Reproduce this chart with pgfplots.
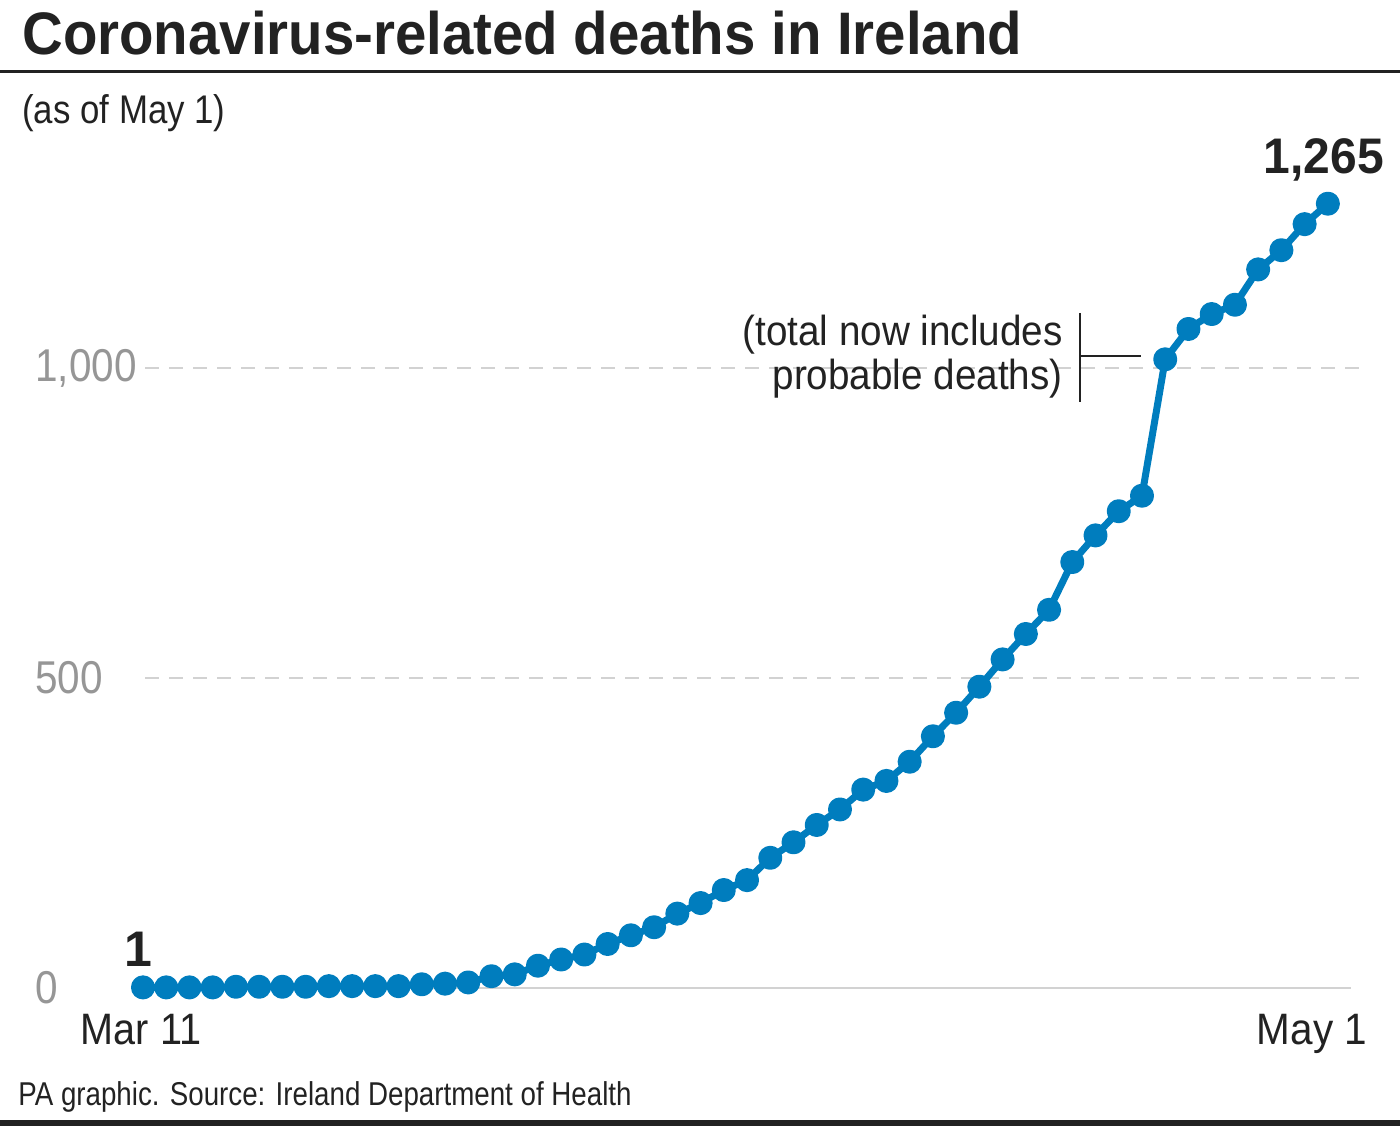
\documentclass[border=0pt]{standalone}
\usepackage{fontspec}
\setmainfont{Liberation Sans}
\usepackage{graphicx}
\usepackage{pgfplots}
\pgfplotsset{compat=1.18}
\definecolor{pablue}{RGB}{0,125,190}
\definecolor{ink}{RGB}{34,34,34}
\definecolor{tickgray}{RGB}{150,150,150}
\definecolor{gridgray}{RGB}{210,210,210}
% narrow the text a little, like the condensed original face
\newcommand{\nar}[2][0.9]{\scalebox{#1}[1]{#2}}

\begin{document}
\begin{tikzpicture}
\useasboundingbox (0,0) rectangle (700pt,563pt);
\begin{axis}[
    at={(71.5pt,69pt)}, anchor=south west,
    scale only axis, width=611pt, height=403pt,
    xmin=0, xmax=52.6, ymin=0, ymax=1300,
    clip=false,
    axis line style={draw=none},
    xtick=\empty,
    ytick={0,500,1000},
    major tick length=0pt,
    /pgf/number format/1000 sep={,},
    /pgf/number format/assume math mode=true,
    yticklabel={\nar[0.88]{\pgfmathprintnumber{\tick}}},
    yticklabel style={font=\fontsize{23}{23}\selectfont, text=tickgray,
        anchor=west, inner sep=0pt, xshift=-54pt},
]
% gridlines
\draw[gridgray, line width=1pt, dash pattern=on 7pt off 5pt] (axis cs:0.1,500) -- (axis cs:52.6,500);
\draw[gridgray, line width=1pt, dash pattern=on 7pt off 5pt] (axis cs:0.1,1000) -- (axis cs:52.6,1000);
\draw[gridgray, line width=1pt] (axis cs:0,0) -- (axis cs:52,0);

\addplot[pablue, line width=3.5pt, line join=round, mark=*, mark size=4.25pt,
    mark options={fill=pablue, draw=none}] coordinates {
(0,1) (1,1) (2,1) (3,1) (4,2) (5,2) (6,2) (7,2) (8,3) (9,3) (10,3) (11,3)
(12,6) (13,7) (14,9) (15,19) (16,22) (17,36) (18,46) (19,54) (20,71)
(21,85) (22,98) (23,120) (24,137) (25,158) (26,174) (27,210) (28,235)
(29,263) (30,288) (31,320) (32,334) (33,365) (34,406) (35,444) (36,486)
(37,530) (38,571) (39,610) (40,687) (41,730) (42,769) (43,794) (44,1014)
(45,1063) (46,1087) (47,1102) (48,1159) (49,1190) (50,1232) (51,1265)
};
\end{axis}

\begin{scope}[x=0.5pt, y=-0.5pt, shift={(0,563pt)}]
\node[anchor=base west, inner sep=0pt, text=ink, font=\fontsize{30}{30}\selectfont\bfseries] at (22,55) {\nar[0.94]{Coronavirus-related deaths in Ireland}};
\draw[ink, line width=1.5pt] (0,72) -- (1400,72);
\node[anchor=base west, inner sep=0pt, text=ink, font=\fontsize{20}{20}\selectfont] at (22,124) {\nar[0.87]{(as of May 1)}};

\node[anchor=base, inner sep=0pt, text=ink, font=\fontsize{25}{25}\selectfont\bfseries] at (138,966) {1};
\node[anchor=base, inner sep=0pt, text=ink, font=\fontsize{25}{25}\selectfont\bfseries] at (1324,174) {\nar[0.96]{1,265}};

\node[anchor=base east, inner sep=0pt, text=ink, font=\fontsize{21}{21}\selectfont] at (1063,346) {\nar[0.92]{(total now includes}};
\node[anchor=base east, inner sep=0pt, text=ink, font=\fontsize{21}{21}\selectfont] at (1063,390) {\nar[0.92]{probable deaths)}};
\draw[ink, line width=0.9pt] (1080,313) -- (1080,402);
\draw[ink, line width=0.9pt] (1080,356) -- (1141,356);

\node[anchor=base, inner sep=0pt, text=ink, font=\fontsize{22}{22}\selectfont] at (141,1044) {\nar{Mar 11}};
\node[anchor=base, inner sep=0pt, text=ink, font=\fontsize{22}{22}\selectfont] at (1312,1044) {\nar[0.92]{May 1}};

\node[anchor=base west, inner sep=0pt, text=ink, font=\fontsize{16.5}{16.5}\selectfont] at (18,1105) {\nar[0.84]{PA graphic. Source: Ireland Department of Health}};
\fill[ink] (0,1120) rectangle (1400,1126);
\end{scope}
\end{tikzpicture}
\end{document}
